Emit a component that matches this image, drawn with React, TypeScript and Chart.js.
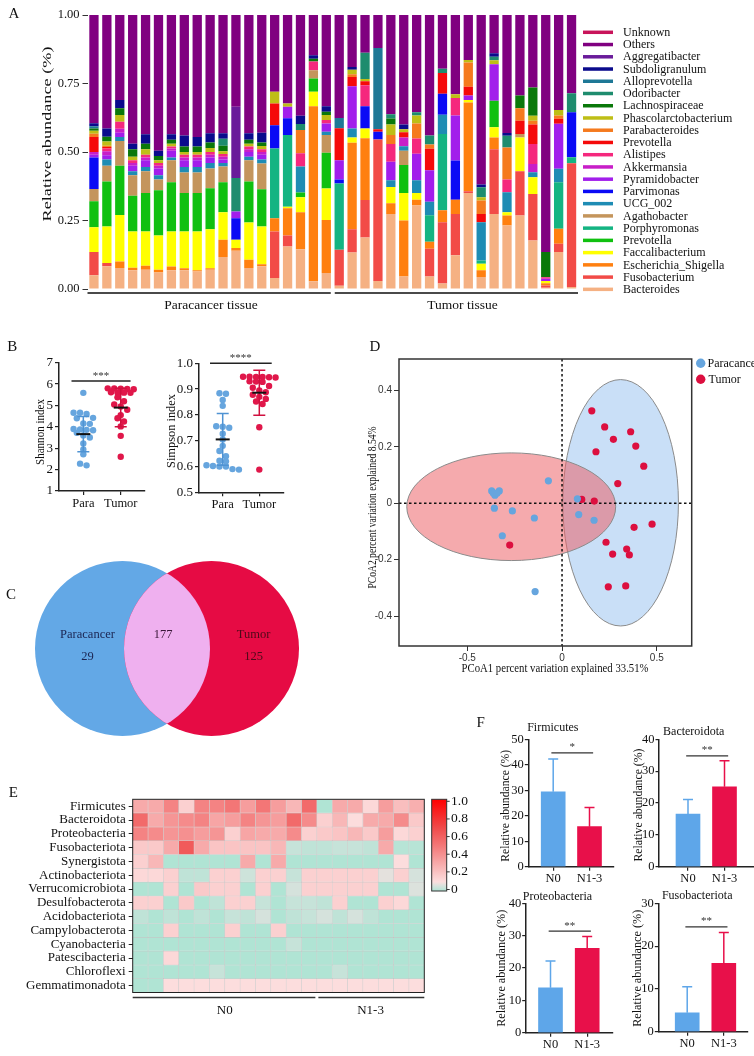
import React, { useEffect, useRef } from 'react';
import { Chart, registerables } from 'chart.js';

Chart.register(...registerables);

const SERIF = "'Liberation Serif', 'Times New Roman', Times, serif";
const SANS = "'Liberation Sans', Arial, Helvetica, sans-serif";

// ================= Panel A : relative abundance (genus) =================
const sampleIds = ['P1','P2','P3','P4','P5','P6','P7','P8','P9','P10','P11','P12','P13','P14','P15','P16','P17','P18','P19',
  'T1','T2','T3','T4','T5','T6','T7','T8','T9','T10','T11','T12','T13','T14','T15','T16','T17','T18','T19'];
const tissueGroups = ['Paracancer tissue', 'Tumor tissue'];
const genusNames = ['Bacteroides','Fusobacterium','Escherichia_Shigella','Faccalibacterium','Prevotella','Porphyromonas',
  'Agathobacter','UCG_002','Parvimonas','Pyramidobacter','Akkermansia','Alistipes','Prevotella','Parabacteroides',
  'Phascolarctobacterium','Lachnospiraceae','Odoribacter','Alloprevotella','Subdoligranulum','Aggregatibacter','Others','Unknown'];
const genusColors = ['#F5B183','#F24B47','#FF8010','#FFFF00','#10C010','#14B482','#C4955C','#1E8CB4','#0A0AF5','#A21EEB',
  '#C81EC8','#F5287D','#F50A0A','#F57A1E','#BEBE16','#0A780A','#1E8C6E','#1E7896','#0A0A8C','#6A1B9A','#800080','#C8145A'];

const bacteroides = [0.05,0.083,0.077,0.068,0.07,0.06,0.068,0.068,0.064,0.07,0.117,0.14,0.077,0.083,0.04,0.155,0.145,0.028,0.058,
  0.012,0.133,0.188,0.029,0.274,0.046,0.305,0.046,0.02,0.123,0.35,0.044,0.274,0.232,0.268,0.177,0.005,0.135,0.007];
const fusobacterium = [0.085,0.012,0,0,0,0,0,0,0,0,0,0,0,0,0.17,0.04,0,0,0,
  0.131,0.085,0.137,0.517,0,0,0,0.101,0.224,0.151,0.007,0,0.236,0,0.162,0.17,0.008,0.03,0.452];
const escherichia = [0,0,0.023,0.01,0.015,0.01,0.014,0.008,0.004,0.006,0.063,0.01,0.03,0.007,0.048,0.1,0.135,0.639,0.194,
  0,0.316,0.225,0,0.039,0.204,0.021,0.025,0.043,0.052,0.324,0.024,0.043,0.036,0,0,0.008,0.055,0];
const faecalibacterium = [0.09,0.133,0.17,0.132,0.125,0.125,0.128,0.134,0.142,0.142,0.1,0.03,0.136,0.138,0,0.005,0.055,0.053,0.115,
  0,0.019,0.036,0,0.059,0.1,0.024,0,0,0,0.009,0.024,0.037,0.012,0.123,0.061,0.008,0,0];
const prevotellaGreen = [0.095,0.164,0.18,0.13,0.14,0.165,0.18,0.14,0.14,0.15,0.11,0,0.149,0.136,0,0,0.017,0.048,0.13,
  0,0,0,0,0,0.103,0,0,0,0,0,0,0.097,0,0,0,0,0,0];
const porphyromonas = [0,0,0,0,0,0,0,0,0,0,0,0,0,0,0.255,0.262,0,0,0,
  0.242,0,0,0,0,0,0,0.097,0.279,0,0,0.012,0,0,0,0,0,0.17,0.022];
const agathobacter = [0.045,0.058,0.09,0.075,0.08,0.04,0.08,0.075,0.075,0.072,0.057,0,0.078,0.094,0,0,0,0.03,0.065,
  0,0,0,0,0,0.052,0,0,0,0,0,0,0,0,0.013,0,0,0,0];
const ucg002 = [0,0.023,0.015,0.015,0.015,0.015,0.01,0.02,0.02,0.02,0.013,0,0.013,0.015,0,0,0.095,0,0.012,
  0,0.033,0,0,0.025,0.016,0.047,0.049,0.07,0,0,0.14,0,0.073,0,0.018,0,0.049,0];
const parvimonas = [0.115,0,0,0,0,0,0,0,0,0,0,0.078,0,0,0.085,0.061,0,0,0,
  0.015,0,0.081,0.028,0,0,0,0,0.077,0.143,0,0,0,0,0,0,0,0,0.164];
const pyramidobacter = [0.01,0.015,0.015,0.02,0.025,0.025,0.025,0.025,0.025,0.02,0.013,0.025,0.017,0.017,0,0.042,0,0,0.03,
  0.07,0.154,0,0,0.067,0,0.097,0.115,0,0.164,0.016,0,0.133,0,0,0,0.008,0.164,0];
const akkermansia = [0.01,0.015,0.015,0.01,0.01,0.01,0.008,0.01,0.01,0.01,0.01,0,0.01,0.01,0,0,0,0,0,
  0,0,0,0,0,0.032,0,0,0,0,0,0,0,0,0,0.03,0,0,0];
const alistipes = [0,0.01,0.025,0.01,0.01,0.01,0.007,0.01,0.01,0.01,0.01,0,0.01,0.01,0,0,0.048,0.032,0.013,
  0,0,0.077,0,0.065,0,0.055,0,0,0.064,0,0,0,0.047,0,0.073,0.006,0,0];
const prevotellaRed = [0.055,0.005,0,0,0,0,0,0,0,0,0,0,0,0,0.079,0,0,0,0,
  0.117,0.034,0.014,0.009,0,0.019,0,0.079,0.075,0,0.032,0.03,0,0,0.048,0.071,0,0.018,0];
const parabacteroides = [0.012,0.005,0,0,0,0,0,0,0,0,0,0,0,0,0,0,0.085,0,0,
  0,0.01,0,0,0.033,0,0.055,0.015,0,0,0.089,0.049,0,0.116,0.046,0.014,0,0.012,0];
const phascolarctobacterium = [0.011,0.015,0.025,0.013,0.02,0.01,0.01,0.01,0.01,0.015,0.01,0,0.01,0.012,0.043,0.012,0,0,0.018,
  0,0.016,0.008,0,0.038,0.011,0.029,0,0,0.014,0.009,0.012,0.015,0,0,0.018,0,0.02,0];
const lachnospiraceae = [0.008,0.018,0.025,0.027,0.02,0.015,0.015,0.02,0.02,0.02,0.02,0,0.015,0.013,0,0,0,0.01,0.012,
  0,0,0,0,0.022,0,0,0,0,0,0,0,0,0,0.046,0.103,0.092,0,0];
const odoribacter = [0,0,0,0,0,0,0,0,0,0,0.025,0.122,0,0,0,0,0.022,0,0,
  0,0,0.096,0,0.016,0,0.012,0.033,0.016,0,0,0.036,0.013,0.043,0,0,0,0,0.069];
const alloprevotella = [0.008,0,0,0,0,0,0,0,0,0,0,0,0,0,0,0,0,0,0,
  0.037,0,0,0.297,0,0,0,0,0,0,0,0,0,0,0,0,0,0,0];
const subdoligranulum = [0.011,0.03,0.03,0.02,0.035,0.02,0.02,0.04,0.035,0.033,0.02,0,0.023,0.035,0,0,0.03,0.013,0.02,
  0,0.01,0,0,0,0.017,0,0,0,0,0,0.01,0.012,0.01,0,0,0,0,0];
const aggregatibacter = [0,0,0,0,0,0,0,0,0,0,0,0.26,0,0,0,0,0,0,0,
  0,0,0,0,0,0,0,0,0,0,0,0,0,0,0,0,0,0,0];
const others = [0.4,0.415,0.31,0.47,0.435,0.495,0.435,0.44,0.445,0.432,0.432,0.335,0.432,0.43,0.28,0.323,0.368,0.147,0.333,
  0.376,0.19,0.138,0.12,0.362,0.4,0.355,0.44,0.196,0.289,0.164,0.62,0.14,0.431,0.294,0.265,0.865,0.347,0.286];
const unknown = [0,0,0,0,0,0,0,0,0,0,0,0,0,0,0,0,0,0,0,
  0,0,0,0,0,0,0,0,0,0,0,0,0,0,0,0,0,0,0];

const abundanceTable = [bacteroides, fusobacterium, escherichia, faecalibacterium, prevotellaGreen, porphyromonas,
  agathobacter, ucg002, parvimonas, pyramidobacter, akkermansia, alistipes, prevotellaRed, parabacteroides,
  phascolarctobacterium, lachnospiraceae, odoribacter, alloprevotella, subdoligranulum, aggregatibacter, others, unknown];
const abundanceTicks = [0, 0.25, 0.5, 0.75, 1];

// ================= Panel B : alpha diversity =================
const diversityGroups = ['Para', 'Tumor'];
const shannonPara = [5.59,4.66,4.66,4.6,4.42,4.4,4.16,4.14,3.9,3.88,3.86,3.84,3.72,3.6,3.5,3.22,2.94,2.72,2.28,2.2];
const shannonTumor = [5.8,5.79,5.78,5.77,5.76,5.62,5.61,5.6,5.59,5.38,5.2,5.05,4.95,4.8,4.55,4.4,4.25,4.02,3.58,2.6];
const shannonMean = [3.66, 4.9];
const shannonSD = [0.82, 0.9];
const simpsonPara = [0.884,0.882,0.858,0.835,0.756,0.754,0.75,0.727,0.705,0.68,0.66,0.64,0.622,0.62,0.605,0.602,0.6,0.6,0.59,0.588];
const simpsonTumor = [0.948,0.948,0.947,0.947,0.946,0.945,0.93,0.929,0.928,0.912,0.905,0.895,0.888,0.878,0.87,0.862,0.852,0.842,0.752,0.588];
const simpsonMean = [0.705, 0.886];
const simpsonSD = [0.1, 0.087];

// ================= Panel C : Venn =================
const vennNames = ['Paracancer', 'Tumor'];
const vennCounts = [29, 177, 125];

// ================= Panel D : PCoA =================
const pcoaGroups = ['Paracancer', 'Tumor'];
const paraPC1 = [-0.371,-0.331,-0.354,-0.362,-0.343,-0.072,-0.357,-0.262,-0.146,-0.315,-0.142,0.081,0.088,0.169];
const paraPC2 = [0.044,0.044,0.029,0.036,0.036,0.08,-0.017,-0.027,-0.052,-0.115,-0.313,0.016,-0.04,-0.06];
const tumorPC1 = [0.157,0.225,0.271,0.362,0.389,0.179,0.431,0.294,0.104,0.17,0.475,0.38,0.232,0.341,0.267,0.355,0.244,0.336,-0.276];
const tumorPC2 = [0.328,0.271,0.227,0.254,0.203,0.183,0.132,0.07,0.014,0.008,-0.074,-0.085,-0.138,-0.162,-0.18,-0.183,-0.296,-0.293,-0.148];
const ellipseCenter = [[0.309, 0.002], [-0.268, -0.012]];
const ellipseRadii = [[0.305, 0.437], [0.551, 0.191]];

// ================= Panel E : heatmap =================
const heatRows = ['Firmicutes','Bacteroidota','Proteobacteria','Fusobacteriota','Synergistota','Actinobacteriota',
  'Verrucomicrobiota','Desulfobacterota','Acidobacteriota','Campylobacterota','Cyanobacteria','Patescibacteria','Chloroflexi','Gemmatimonadota'];
const heatSamples = ['S1','S2','S3','S4','S5','S6','S7','S8','S9','S10','S11','S12','S13','S14','S15','S16','S17','S18','S19'];
const heatGroups = ['N0', 'N1-3'];
const heatGroupSizes = [12, 7];
const firmicutesHeat = [0.3,0.3,0.45,0.15,0.45,0.45,0.5,0.35,0.5,0.35,0.25,0.55,0,0.3,0.3,0.12,0.35,0.22,0.28];
const bacteroidotaHeat = [0.55,0.3,0.38,0.42,0.45,0.32,0.35,0.45,0.38,0.35,0.55,0.42,0.15,0.25,0.1,0.3,0.3,0.42,0.18];
const proteobacteriaHeat = [0.45,0.42,0.38,0.4,0.35,0.38,0.15,0.32,0.3,0.3,0.42,0.15,0.18,0.2,0.25,0.18,0.35,0.12,0.15];
const fusobacteriotaHeat = [0.18,0.18,0.3,0.62,0.3,0.2,0.2,0.2,0.2,0.25,0.03,0.02,0.02,0.03,0.03,0.02,0.3,0.01,0.01];
const synergistotaHeat = [0.15,0.25,0,0,0,0,0,0.3,0,0.3,0,0,0,0,0,0,0,0.1,0];
const actinobacteriotaHeat = [0.12,0.12,0.15,0.02,0.02,0.15,0.15,0.04,0.15,0.15,0.03,0.15,0.15,0.15,0.15,0.15,0.07,0.15,0.05];
const verrucomicrobiotaHeat = [0,0,0.15,0,0.18,0.15,0.15,0,0.15,0,0.05,0.15,0.15,0.15,0.15,0.15,0,0,0.06];
const desulfobacterotaHeat = [0.15,0.15,0,0.18,0,0.02,0.15,0.15,0.03,0,0.03,0.03,0.02,0.15,0,0,0.15,0.12,0];
const acidobacteriotaHeat = [0.02,0,0.02,0,0.02,0,0.03,0.02,0.05,0,0.02,0.03,0.05,0.02,0.05,0.02,0,0,0];
const campylobacterotaHeat = [0,0,0.15,0,0,0,0.15,0,0,0.15,0,0,0,0,0,0,0,0,0];
const cyanobacteriaHeat = [0,0,0,0,0,0,0,0,0,0,0.03,0,0,0,0,0,0,0,0];
const patescibacteriaHeat = [0,0,0.12,0,0,0,0,0,0,0,0,0,0,0,0,0,0,0,0];
const chloroflexiHeat = [0,0,0,0,0,0.03,0,0,0,0,0,0,0,0.03,0,0,0,0,0];
const gemmatimonadotaHeat = [0,0,0.1,0.1,0.1,0.1,0.1,0.1,0.1,0.1,0.1,0.1,0.1,0.1,0.1,0.1,0.1,0.1,0.1];
const heatTable = [firmicutesHeat, bacteroidotaHeat, proteobacteriaHeat, fusobacteriotaHeat, synergistotaHeat,
  actinobacteriotaHeat, verrucomicrobiotaHeat, desulfobacterotaHeat, acidobacteriotaHeat, campylobacterotaHeat,
  cyanobacteriaHeat, patescibacteriaHeat, chloroflexiHeat, gemmatimonadotaHeat];
const colorbarTicks = [1, 0.8, 0.6, 0.4, 0.2, 0];

// ================= Panel F : phylum bars =================
const nGroups = ['N0', 'N1-3'];
const firmicutesMean = [29.4, 15.7];
const firmicutesSD = [12.9, 7.5];
const bacteroidotaMean = [16.5, 25.1];
const bacteroidotaSD = [4.6, 8.2];
const proteobacteriaMean = [13.9, 26.1];
const proteobacteriaSD = [8.3, 3.6];
const fusobacteriotaMean = [4.4, 16.0];
const fusobacteriotaSD = [6.1, 7.2];
const phylumSigHeight = [44.7, 34.8, 31.4, 24.5];
const phylumStars = ['*', '**', '**', '**'];

// ================= styling =================
const BLUE_PT = '#66A5DE';
const RED_PT = '#E0174A';
const BLUE_ERR = '#4F93D3';
const RED_ERR = '#D0103F';
const F_COLORS = ['#5EA6E9', '#E8104A'];

type TextItem = { t: string; x: number; y: number; size: number; rot?: number; color?: string; len?: number; font?: string; align?: CanvasTextAlign };

function drawTexts(ctx: CanvasRenderingContext2D, items: TextItem[], ox: number, oy: number) {
  for (const it of items) {
    ctx.save();
    ctx.font = `${it.size}px ${it.font || SERIF}`;
    ctx.fillStyle = it.color || '#111';
    ctx.textAlign = it.align || 'center';
    ctx.textBaseline = 'middle';
    ctx.translate(it.x - ox, it.y - oy);
    if (it.rot) ctx.rotate(it.rot);
    if (it.len) {
      const w = ctx.measureText(it.t).width;
      if (w > 0) ctx.scale(it.len / w, 1);
    }
    ctx.fillText(it.t, 0, 0);
    ctx.restore();
  }
}

function textPlugin(id: string, items: TextItem[], ox: number, oy: number) {
  return { id, afterDraw(chart: any) { drawTexts(chart.ctx, items, ox, oy); } };
}

const baseOpts = { responsive: false, animation: false, devicePixelRatio: 1 };
const noPlugins = { legend: { display: false }, tooltip: { enabled: false } };
const serif = (size: number) => ({ family: SERIF, size });

// dot-plot layout: points falling in the same value bin are spread side by side
function dotRows(values: number[], center: number, pxPerX: number, pxPerY: number, binPx: number, s: number) {
  const bins = new Map<number, number[]>();
  values.forEach((v, i) => {
    const k = Math.round((v * pxPerY) / binPx);
    if (!bins.has(k)) bins.set(k, []);
    (bins.get(k) as number[]).push(i);
  });
  const out: { x: number; y: number }[] = new Array(values.length);
  bins.forEach(idx => {
    const n = idx.length;
    idx.forEach((i, k) => {
      const dx = (k - (n - 1) / 2) * s;
      out[i] = { x: center + dx / pxPerX, y: values[i] };
    });
  });
  return out;
}

const heatStops: [number, number[]][] = [[0, [176, 228, 212]], [0.06, [220, 226, 221]], [0.1, [252, 221, 221]],
  [0.3, [247, 170, 170]], [0.5, [243, 118, 118]], [0.7, [240, 72, 72]], [1, [255, 0, 0]]];
function heatColor(v: number) {
  for (let i = 1; i < heatStops.length; i++) {
    const [v1, c1] = heatStops[i];
    const [v0, c0] = heatStops[i - 1];
    if (v <= v1) {
      const t = (v - v0) / (v1 - v0);
      return `rgb(${c0.map((c, k) => Math.round(c + (c1[k] - c) * t)).join(',')})`;
    }
  }
  return 'rgb(255,0,0)';
}

// ---------- A ----------
function makeA(ox: number, oy: number) {
  const datasets = abundanceTable.map((vals, i) => ({
    label: genusNames[i], data: vals, backgroundColor: genusColors[i], borderWidth: 0,
    barPercentage: 0.72, categoryPercentage: 1,
  }));
  const legendPlugin = {
    id: 'legendA',
    afterDraw(chart: any) {
      const ctx = chart.ctx;
      const ds = chart.data.datasets;
      ctx.save();
      for (let k = 0; k < ds.length; k++) {
        const d = ds[ds.length - 1 - k];
        const y = 32.3 + k * 12.24;
        ctx.strokeStyle = d.backgroundColor;
        ctx.lineWidth = 3.5;
        ctx.beginPath(); ctx.moveTo(583, y); ctx.lineTo(613, y); ctx.stroke();
        ctx.fillStyle = '#111';
        ctx.font = `12px ${SERIF}`;
        ctx.textAlign = 'left'; ctx.textBaseline = 'middle';
        ctx.fillText(d.label, 623, y + 0.5);
      }
      const xs = chart.scales.x;
      const n = sampleIds.length;
      const step = (xs.right - xs.left) / n;
      const split = xs.left + step * 19;
      ctx.strokeStyle = '#4a4a4a'; ctx.lineWidth = 2;
      ctx.beginPath();
      ctx.moveTo(xs.left, 293); ctx.lineTo(split - 2, 293);
      ctx.moveTo(split + 2, 293); ctx.lineTo(xs.right, 293);
      ctx.stroke();
      ctx.restore();
    },
  };
  return {
    type: 'bar',
    data: { labels: sampleIds, datasets },
    options: {
      ...baseOpts,
      layout: { padding: { top: 15, right: 176, bottom: 31, left: 0 } },
      plugins: noPlugins,
      scales: {
        x: { stacked: true, display: false },
        y: {
          stacked: true, min: 0, max: 1,
          afterBuildTicks: (s: any) => { s.ticks = abundanceTicks.map(v => ({ value: v })); },
          afterFit: (s: any) => { s.width = 87.5; },
          ticks: { callback: (v: any) => Number(v).toFixed(2), font: serif(12.5), color: '#111', padding: 3 },
          grid: { drawOnChartArea: false, drawTicks: true, tickLength: 5, color: '#333' },
          border: { display: false },
        },
      },
    },
    plugins: [legendPlugin, textPlugin('textA', [
      { t: 'A', x: 14, y: 14, size: 15 },
      { t: 'Relative abundance (%)', x: 47.5, y: 134, size: 13, rot: -Math.PI / 2, len: 175 },
      { t: tissueGroups[0], x: 211, y: 305, size: 13.5 },
      { t: tissueGroups[1], x: 462.5, y: 305, size: 13.5 },
    ], ox, oy)],
  };
}

// ---------- B ----------
function makeDiversity(cfg: any) {
  return (ox: number, oy: number) => {
    const statPlugin = {
      id: 'stats' + cfg.id,
      afterDatasetsDraw(chart: any) {
        const { ctx } = chart; const x = chart.scales.x; const y = chart.scales.y;
        ctx.save();
        [0, 1].forEach(g => {
          const cx = x.getPixelForValue(g + 1);
          const m = cfg.mean[g], s = cfg.sd[g];
          const yt = y.getPixelForValue(m + s), yb = y.getPixelForValue(m - s), ym = y.getPixelForValue(m);
          ctx.strokeStyle = g === 0 ? BLUE_ERR : RED_ERR; ctx.lineWidth = 1.5;
          ctx.beginPath();
          ctx.moveTo(cx, yt); ctx.lineTo(cx, yb);
          ctx.moveTo(cx - 6, yt); ctx.lineTo(cx + 6, yt);
          ctx.moveTo(cx - 6, yb); ctx.lineTo(cx + 6, yb);
          ctx.stroke();
          ctx.strokeStyle = '#111'; ctx.lineWidth = 2;
          ctx.beginPath(); ctx.moveTo(cx - 7, ym); ctx.lineTo(cx + 7, ym); ctx.stroke();
        });
        const sy = y.getPixelForValue(cfg.sigY);
        const x1 = x.getPixelForValue(cfg.sigX[0]), x2 = x.getPixelForValue(cfg.sigX[1]);
        ctx.strokeStyle = '#222'; ctx.lineWidth = 1.5;
        ctx.beginPath(); ctx.moveTo(x1, sy); ctx.lineTo(x2, sy); ctx.stroke();
        ctx.fillStyle = '#333'; ctx.font = `11px ${SERIF}`; ctx.textAlign = 'center'; ctx.textBaseline = 'middle';
        ctx.fillText(cfg.stars, (x1 + x2) / 2, sy - 5);
        ctx.restore();
      },
    };
    return {
      type: 'scatter',
      data: {
        datasets: [
          { label: diversityGroups[0], data: dotRows(cfg.para, 1, cfg.pxX, cfg.pxY, 7, 6.5), backgroundColor: BLUE_PT, pointRadius: 3.2, borderWidth: 0 },
          { label: diversityGroups[1], data: dotRows(cfg.tumor, 2, cfg.pxX, cfg.pxY, 7, 6.5), backgroundColor: RED_PT, pointRadius: 3.2, borderWidth: 0 },
        ],
      },
      options: {
        ...baseOpts,
        layout: { padding: { top: cfg.padTop, right: cfg.padRight, left: 0, bottom: 0 } },
        plugins: noPlugins,
        scales: {
          x: {
            type: 'linear', min: cfg.xMin, max: cfg.xMax,
            afterBuildTicks: (s: any) => { s.ticks = [1, 2].map(v => ({ value: v })); },
            afterFit: (s: any) => { s.height = cfg.xH; },
            ticks: { callback: (v: any) => diversityGroups[v - 1], font: serif(12.5), color: '#111', padding: 1, maxRotation: 0, autoSkip: false },
            grid: { drawOnChartArea: false, tickLength: 4, color: '#222', lineWidth: 1.2 },
            border: { color: '#222', width: 1.5 },
          },
          y: {
            min: cfg.yMin, max: cfg.yMax,
            afterFit: (s: any) => { s.width = cfg.yW; },
            ticks: { stepSize: cfg.step, callback: cfg.fmt, font: serif(13), color: '#111', padding: 2 },
            grid: { drawOnChartArea: false, tickLength: 4, color: '#222', lineWidth: 1.2 },
            border: { color: '#222', width: 1.5 },
          },
        },
      },
      plugins: [statPlugin, textPlugin('text' + cfg.id, cfg.texts, ox, oy)],
    };
  };
}

const makeShannon = makeDiversity({
  id: 'sh', para: shannonPara, tumor: shannonTumor, mean: shannonMean, sd: shannonSD,
  pxX: 37.4, pxY: 21.4, padTop: 32.7, padRight: 15.7, xH: 29, yW: 59, xMin: 0.35, xMax: 2.63,
  yMin: 1, yMax: 7, step: 1, fmt: (v: any) => String(v), sigY: 6.15, sigX: [0.684, 2.263], stars: '***',
  texts: [
    { t: 'B', x: 12.3, y: 347.3, size: 15 },
    { t: 'Shannon index', x: 40.8, y: 432, size: 13, rot: -Math.PI / 2, len: 66 },
  ],
});
const makeSimpson = makeDiversity({
  id: 'si', para: simpsonPara, tumor: simpsonTumor, mean: simpsonMean, sd: simpsonSD,
  pxX: 36.6, pxY: 258, padTop: 33.3, padRight: 16, xH: 27.7, yW: 39, xMin: 0.352, xMax: 2.675,
  yMin: 0.5, yMax: 1.0, step: 0.1, fmt: (v: any) => Number(v).toFixed(1), sigY: 1.0, sigX: [0.653, 2.339], stars: '****',
  texts: [
    { t: 'Simpson index', x: 171.2, y: 431, size: 13, rot: -Math.PI / 2, len: 74 },
  ],
});

// ---------- C ----------
function makeVenn(ox: number, oy: number) {
  const vennPlugin = {
    id: 'venn',
    afterDraw(chart: any) {
      const ctx = chart.ctx; const x = chart.scales.x; const y = chart.scales.y;
      const r = 87.5;
      const L = [x.getPixelForValue(122.5 - ox), y.getPixelForValue(648.5 - oy)];
      const R = [x.getPixelForValue(211.5 - ox), y.getPixelForValue(648.5 - oy)];
      ctx.save();
      ctx.fillStyle = '#63A8E6';
      ctx.beginPath(); ctx.arc(L[0], L[1], r, 0, Math.PI * 2); ctx.fill();
      ctx.fillStyle = '#E60B44';
      ctx.beginPath(); ctx.arc(R[0], R[1], r, 0, Math.PI * 2); ctx.fill();
      ctx.beginPath(); ctx.arc(L[0], L[1], r, 0, Math.PI * 2); ctx.clip();
      ctx.fillStyle = '#EFB0EF';
      ctx.beginPath(); ctx.arc(R[0], R[1], r, 0, Math.PI * 2); ctx.fill();
      ctx.restore();
      drawTexts(ctx, [
        { t: 'C', x: 11, y: 595, size: 15 },
        { t: vennNames[0], x: 87.5, y: 635, size: 12.5, color: '#1B2552' },
        { t: String(vennCounts[0]), x: 87.5, y: 657, size: 12.5, color: '#1B2552' },
        { t: String(vennCounts[1]), x: 163, y: 635, size: 12.5, color: '#3A1738' },
        { t: vennNames[1], x: 253.5, y: 635, size: 12.5, color: '#4D0A18' },
        { t: String(vennCounts[2]), x: 253.5, y: 657, size: 12.5, color: '#4D0A18' },
      ], ox, oy);
    },
  };
  return {
    type: 'scatter',
    data: { datasets: [] },
    options: {
      ...baseOpts,
      layout: { padding: 0 },
      plugins: noPlugins,
      scales: { x: { display: false, min: 0, max: 340 }, y: { display: false, min: 0, max: 215, reverse: true } },
    },
    plugins: [vennPlugin],
  };
}

// ---------- D ----------
function makeD(ox: number, oy: number) {
  const bgPlugin = {
    id: 'pcoaBg',
    beforeDatasetsDraw(chart: any) {
      const ctx = chart.ctx; const x = chart.scales.x; const y = chart.scales.y; const a = chart.chartArea;
      const fills = ['rgba(135,185,238,0.45)', 'rgba(236,92,98,0.52)'];
      ctx.save();
      [0, 1].forEach(i => {
        const cx = x.getPixelForValue(ellipseCenter[i][0]);
        const cy = y.getPixelForValue(ellipseCenter[i][1]);
        const rx = Math.abs(x.getPixelForValue(ellipseCenter[i][0] + ellipseRadii[i][0]) - cx);
        const ry = Math.abs(y.getPixelForValue(ellipseCenter[i][1] + ellipseRadii[i][1]) - cy);
        ctx.beginPath(); ctx.ellipse(cx, cy, rx, ry, 0, 0, Math.PI * 2);
        ctx.fillStyle = fills[i]; ctx.fill();
        ctx.strokeStyle = '#8a8a8a'; ctx.lineWidth = 1; ctx.stroke();
      });
      ctx.setLineDash([2.5, 2.5]); ctx.strokeStyle = '#111'; ctx.lineWidth = 1.5;
      const x0 = x.getPixelForValue(0), y0 = y.getPixelForValue(0);
      ctx.beginPath(); ctx.moveTo(x0, a.top); ctx.lineTo(x0, a.bottom); ctx.moveTo(a.left, y0); ctx.lineTo(a.right, y0); ctx.stroke();
      ctx.setLineDash([]);
      ctx.strokeStyle = '#333'; ctx.lineWidth = 1.5;
      ctx.strokeRect(a.left, a.top, a.right - a.left, a.bottom - a.top);
      const cols = [BLUE_PT, '#DC0F3F'];
      [0, 1].forEach(i => {
        ctx.fillStyle = cols[i];
        ctx.beginPath(); ctx.arc(700.7 - ox, 363.3 + i * 16 - oy, 4.7, 0, Math.PI * 2); ctx.fill();
      });
      ctx.restore();
    },
  };
  return {
    type: 'scatter',
    data: {
      datasets: [
        { label: pcoaGroups[0], data: paraPC1.map((v, i) => ({ x: v, y: paraPC2[i] })), backgroundColor: BLUE_PT, pointRadius: 3.6, borderWidth: 0 },
        { label: pcoaGroups[1], data: tumorPC1.map((v, i) => ({ x: v, y: tumorPC2[i] })), backgroundColor: '#DC0F3F', pointRadius: 3.6, borderWidth: 0 },
      ],
    },
    options: {
      ...baseOpts,
      layout: { padding: { top: 29, right: 62.3, left: 0, bottom: 0 } },
      plugins: noPlugins,
      scales: {
        x: {
          type: 'linear', min: -0.86, max: 0.684,
          afterBuildTicks: (s: any) => { s.ticks = [-0.5, 0, 0.5].map(v => ({ value: v })); },
          afterFit: (s: any) => { s.height = 34; },
          ticks: { callback: (v: any) => (v === 0 ? '0' : String(v)), font: { family: SANS, size: 10 }, color: '#333', padding: 1, maxRotation: 0 },
          grid: { drawOnChartArea: false, tickLength: 5, color: '#333' },
          border: { display: false },
        },
        y: {
          min: -0.506, max: 0.512,
          afterBuildTicks: (s: any) => { s.ticks = [-0.4, -0.2, 0, 0.2, 0.4].map(v => ({ value: v })); },
          afterFit: (s: any) => { s.width = 59; },
          ticks: { callback: (v: any) => (v === 0 ? '0' : String(v)), font: { family: SANS, size: 10 }, color: '#333', padding: 2 },
          grid: { drawOnChartArea: false, tickLength: 5, color: '#333' },
          border: { display: false },
        },
      },
    },
    plugins: [bgPlugin, textPlugin('textD', [
      { t: 'D', x: 375, y: 347, size: 15 },
      { t: 'PCoA2 percent variation explained 8.54%', x: 372.5, y: 507.5, size: 11.5, rot: -Math.PI / 2, len: 162 },
      { t: 'PCoA1 percent variation explained 33.51%', x: 555, y: 668.5, size: 11.5, len: 187 },
      { t: 'Paracancer', x: 707.5, y: 363.8, size: 12, align: 'left' },
      { t: 'Tumor', x: 708.5, y: 379.8, size: 12, align: 'left' },
    ], ox, oy)],
  };
}

// ---------- E ----------
function makeE(ox: number, oy: number) {
  const datasets = heatRows.map((name, r) => ({
    label: name,
    data: heatSamples.map(() => [r, r + 1]),
    backgroundColor: heatTable[r].map(heatColor),
    borderColor: 'rgba(170,170,170,0.45)', borderWidth: 0.6, borderSkipped: false,
    grouped: false, barPercentage: 1, categoryPercentage: 1,
  }));
  const decoPlugin = {
    id: 'heatDeco',
    afterDraw(chart: any) {
      const ctx = chart.ctx; const a = chart.chartArea;
      ctx.save();
      ctx.strokeStyle = '#222'; ctx.lineWidth = 1;
      ctx.strokeRect(a.left, a.top, a.right - a.left, a.bottom - a.top);
      const cbL = 431.7 - ox, cbR = 446.7 - ox, cbT = 799.3 - oy, cbB = 891 - oy;
      const g = ctx.createLinearGradient(0, cbB, 0, cbT);
      for (let v = 0; v <= 1.0001; v += 0.02) g.addColorStop(Math.min(v, 1), heatColor(v));
      ctx.fillStyle = g; ctx.fillRect(cbL, cbT, cbR - cbL, cbB - cbT);
      ctx.strokeStyle = '#333'; ctx.lineWidth = 1; ctx.strokeRect(cbL, cbT, cbR - cbL, cbB - cbT);
      ctx.font = `13.5px ${SERIF}`; ctx.fillStyle = '#111'; ctx.textAlign = 'left'; ctx.textBaseline = 'middle';
      colorbarTicks.forEach(v => {
        const yy = cbB - 1.5 - v * (cbB - cbT - 3.5);
        ctx.beginPath(); ctx.moveTo(cbR, yy); ctx.lineTo(cbR + 3, yy); ctx.stroke();
        ctx.fillText(v === 0 ? '0' : v.toFixed(1), 451 - ox, yy);
      });
      const step = (a.right - a.left) / heatSamples.length;
      let start = a.left;
      const yl = a.bottom + 5;
      ctx.lineWidth = 1.5; ctx.strokeStyle = '#333';
      ctx.font = `13px ${SERIF}`; ctx.textAlign = 'center';
      heatGroupSizes.forEach((n, gi) => {
        const end = start + n * step;
        ctx.beginPath(); ctx.moveTo(start + (gi ? 1.5 : 0), yl); ctx.lineTo(end - (gi ? 0 : 1.5), yl); ctx.stroke();
        ctx.fillText(heatGroups[gi], (start + end) / 2, yl + 13.5);
        start = end;
      });
      ctx.restore();
    },
  };
  return {
    type: 'bar',
    data: { labels: heatSamples, datasets },
    options: {
      ...baseOpts,
      layout: { padding: { top: 39.3, right: 45.7, left: 0, bottom: 37.5 } },
      plugins: noPlugins,
      scales: {
        x: { display: false },
        y: {
          type: 'linear', min: 0, max: heatRows.length, reverse: true,
          afterBuildTicks: (s: any) => { s.ticks = heatRows.map((_, i) => ({ value: i + 0.5 })); },
          afterFit: (s: any) => { s.width = 132.7; },
          ticks: { autoSkip: false, callback: (v: any) => heatRows[Math.floor(v)], font: serif(13), color: '#111', padding: 3 },
          grid: { drawOnChartArea: false, tickLength: 4, color: '#222' },
          border: { display: false },
        },
      },
    },
    plugins: [decoPlugin, textPlugin('textE', [{ t: 'E', x: 13.3, y: 792.7, size: 15 }], ox, oy)],
  };
}

// ---------- F ----------
function makeF(cfg: any) {
  return (ox: number, oy: number) => {
    const errPlugin = {
      id: 'err' + cfg.id,
      afterDatasetsDraw(chart: any) {
        const ctx = chart.ctx; const ys = chart.scales.y; const xs = chart.scales.x;
        const meta = chart.getDatasetMeta(0);
        ctx.save();
        meta.data.forEach((bar: any, i: number) => {
          const top = ys.getPixelForValue(cfg.means[i] + cfg.sds[i]);
          ctx.strokeStyle = F_COLORS[i]; ctx.lineWidth = 1.5;
          ctx.beginPath();
          ctx.moveTo(bar.x, bar.y); ctx.lineTo(bar.x, top);
          ctx.moveTo(bar.x - 5, top); ctx.lineTo(bar.x + 5, top);
          ctx.stroke();
        });
        const sy = ys.getPixelForValue(phylumSigHeight[cfg.idx]);
        const x1 = xs.getPixelForValue(0.95), x2 = xs.getPixelForValue(2.1);
        ctx.strokeStyle = '#333'; ctx.lineWidth = 1.3;
        ctx.beginPath(); ctx.moveTo(x1, sy); ctx.lineTo(x2, sy); ctx.stroke();
        ctx.fillStyle = '#333'; ctx.font = `11px ${SERIF}`; ctx.textAlign = 'center'; ctx.textBaseline = 'middle';
        ctx.fillText(phylumStars[cfg.idx], (x1 + x2) / 2, sy - 5.5);
        ctx.restore();
      },
    };
    return {
      type: 'bar',
      data: { datasets: [{ data: cfg.means.map((m: number, i: number) => ({ x: i + 1, y: m })), backgroundColor: F_COLORS, borderWidth: 0, barThickness: 24 }] },
      options: {
        ...baseOpts,
        layout: { padding: { top: cfg.padTop, right: cfg.padRight, left: 0, bottom: 0 } },
        plugins: noPlugins,
        scales: {
          x: {
            type: 'linear', min: cfg.xMin, max: cfg.xMax, offset: false,
            afterBuildTicks: (s: any) => { s.ticks = [1, 2].map(v => ({ value: v })); },
            afterFit: (s: any) => { s.height = cfg.xH; },
            ticks: { callback: (v: any) => nGroups[v - 1], font: serif(12.5), color: '#111', padding: 1, maxRotation: 0, autoSkip: false },
            grid: { offset: false, drawOnChartArea: false, tickLength: 4, color: '#222', lineWidth: 1.2 },
            border: { color: '#222', width: 1.5 },
          },
          y: {
            min: 0, max: cfg.yMax,
            afterFit: (s: any) => { s.width = cfg.yW; },
            ticks: { stepSize: 10, font: serif(12.5), color: '#111', padding: 1 },
            grid: { drawOnChartArea: false, tickLength: 3.5, color: '#222', lineWidth: 1.2 },
            border: { color: '#222', width: 1.5 },
          },
        },
      },
      plugins: [errPlugin, textPlugin('textF' + cfg.id, cfg.texts, ox, oy)],
    };
  };
}

const makeFirmicutes = makeF({
  id: 'a', idx: 0, means: firmicutesMean, sds: firmicutesSD, yMax: 50, padTop: 24.3, padRight: 6, xH: 23.3, yW: 58.3, xMin: 0.314, xMax: 2.675,
  texts: [
    { t: 'F', x: 480.7, y: 722.7, size: 15 },
    { t: 'Firmicutes', x: 552.8, y: 728.3, size: 12 },
    { t: 'Relative abundance (%)', x: 505.8, y: 805.8, size: 12, rot: -Math.PI / 2, len: 112 },
  ],
});
const makeBacteroidota = makeF({
  id: 'b', idx: 1, means: bacteroidotaMean, sds: bacteroidotaSD, yMax: 40, padTop: 24.3, padRight: 0.7, xH: 23.3, yW: 39, xMin: 0.2055, xMax: 2.789,
  texts: [
    { t: 'Bacteroidota', x: 693.7, y: 731.7, size: 12 },
    { t: 'Relative abundance (%)', x: 638.5, y: 805, size: 11.5, rot: -Math.PI / 2, len: 113 },
  ],
});
const makeProteobacteria = makeF({
  id: 'c', idx: 2, means: proteobacteriaMean, sds: proteobacteriaSD, yMax: 40, padTop: 23.3, padRight: 7.3, xH: 23.3, yW: 55.7, xMin: 0.324, xMax: 2.695,
  texts: [
    { t: 'Proteobacteria', x: 557.5, y: 896.7, size: 12 },
    { t: 'Relative abundance (%)', x: 501.7, y: 968.3, size: 12, rot: -Math.PI / 2, len: 117 },
  ],
});
const makeFusobacteriota = makeF({
  id: 'd', idx: 3, means: fusobacteriotaMean, sds: fusobacteriotaSD, yMax: 30, padTop: 23.3, padRight: 6.7, xH: 24.3, yW: 38.3, xMin: 0.21, xMax: 2.642,
  texts: [
    { t: 'Fusobacteriota', x: 697.2, y: 896, size: 12 },
    { t: 'Relative abundance (%)', x: 637.5, y: 968.3, size: 11.5, rot: -Math.PI / 2, len: 117 },
  ],
});

function ChartCanvas({ left, top, width, height, make }: any) {
  const ref = useRef<HTMLCanvasElement>(null);
  useEffect(() => {
    const chart = new Chart(ref.current as HTMLCanvasElement, make(left, top) as any);
    return () => chart.destroy();
  }, []);
  return <canvas ref={ref} width={width} height={height} style={{ position: 'absolute', left, top, width, height }} />;
}

export default function App() {
  return (
    <div style={{ position: 'absolute', left: 0, top: 0, width: 754, height: 1056, overflow: 'hidden', background: '#fff' }}>
      <ChartCanvas left={0} top={0} width={754} height={320} make={makeA} />
      <ChartCanvas left={0} top={330} width={160} height={190} make={makeShannon} />
      <ChartCanvas left={160} top={330} width={140} height={190} make={makeSimpson} />
      <ChartCanvas left={0} top={540} width={340} height={215} make={makeVenn} />
      <ChartCanvas left={340} top={330} width={414} height={350} make={makeD} />
      <ChartCanvas left={0} top={760} width={470} height={270} make={makeE} />
      <ChartCanvas left={470} top={715} width={150} height={175} make={makeFirmicutes} />
      <ChartCanvas left={620} top={715} width={134} height={175} make={makeBacteroidota} />
      <ChartCanvas left={470} top={880} width={150} height={176} make={makeProteobacteria} />
      <ChartCanvas left={620} top={880} width={134} height={176} make={makeFusobacteriota} />
    </div>
  );
}
